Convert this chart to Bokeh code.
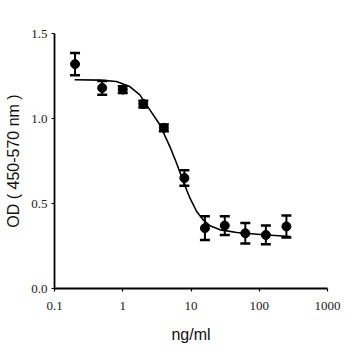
from bokeh.plotting import figure
from bokeh.models import (ColumnDataSource, Whisker, TeeHead, FixedTicker,
                          CustomJSTickFormatter, Range1d)
from bokeh.embed import file_html
from bokeh.resources import INLINE

# data
conc = [0.2, 0.5, 1, 2, 4, 8, 16, 31.25, 62.5, 125, 250]
od = [1.32, 1.18, 1.17, 1.085, 0.945, 0.65, 0.355, 0.37, 0.325, 0.315, 0.365]
od_err = [0.065, 0.04, 0.02, 0.02, 0.02, 0.045, 0.07, 0.055, 0.06, 0.055, 0.065]

fit_x = [0.197, 0.459, 0.807, 1.27, 1.78, 2.5, 3.5, 4.9, 6.15, 7.7, 9.66,
         12.1, 15.1, 19, 26.7, 47, 115, 286]
fit_y = [1.228, 1.226, 1.218, 1.188, 1.139, 1.051, 0.963, 0.835, 0.737,
         0.629, 0.531, 0.453, 0.404, 0.369, 0.345, 0.329, 0.316, 0.306]

x_ticks = [0.1, 1, 10, 100, 1000]
y_ticks = [0.0, 0.5, 1.0, 1.5]

p = figure(width=358, height=358, x_axis_type="log",
           x_range=Range1d(0.1, 1000), y_range=Range1d(0, 1.5),
           output_backend="svg", toolbar_location=None,
           min_border_left=54, min_border_right=31,
           min_border_top=33, min_border_bottom=70)
p.outline_line_color = None
p.xgrid.visible = False
p.ygrid.visible = False
p.background_fill_color = "white"
p.border_fill_color = "white"

lower = [m - e for m, e in zip(od, od_err)]
upper = [m + e for m, e in zip(od, od_err)]
src = ColumnDataSource(dict(x=conc, y=od, lower=lower, upper=upper))

p.line(fit_x, fit_y, line_color="black", line_width=1.6)
w = Whisker(source=src, base="x", lower="lower", upper="upper",
            line_color="black", line_width=2,
            upper_head=TeeHead(size=10, line_width=2.5, line_color="black"),
            lower_head=TeeHead(size=10, line_width=2.5, line_color="black"))
p.add_layout(w)
p.scatter("x", "y", source=src, size=9, color="black")

for ax in (p.xaxis, p.yaxis):
    ax.axis_line_width = 1.8
    ax.axis_line_color = "black"
    ax.major_tick_line_color = "black"
    ax.major_tick_line_width = 1.2
    ax.major_tick_out = 3
    ax.major_tick_in = 0
    ax.minor_tick_line_color = None
    ax.major_label_text_font = "Liberation Serif"
    ax.major_label_text_font_size = "13px"
    ax.major_label_text_color = "#222222"
    ax.axis_label_text_font = "Liberation Sans"
    ax.axis_label_text_font_style = "normal"
    ax.axis_label_text_color = "#111111"

p.xaxis.axis_label_text_font_size = "16px"
p.yaxis.axis_label_text_font_size = "16px"
p.xaxis.ticker = FixedTicker(ticks=x_ticks)
p.xaxis.formatter = CustomJSTickFormatter(code="return String(tick);")
p.yaxis.ticker = FixedTicker(ticks=y_ticks)
p.yaxis.formatter = CustomJSTickFormatter(code="return tick.toFixed(1);")
p.xaxis.axis_label = "ng/ml"
p.yaxis.axis_label = "OD ( 450-570 nm )"
p.xaxis.major_label_standoff = 10
p.yaxis.major_label_standoff = 4
p.xaxis.axis_label_standoff = 13
p.yaxis.axis_label_standoff = 6

open("out.html", "w").write(file_html(p, INLINE))
